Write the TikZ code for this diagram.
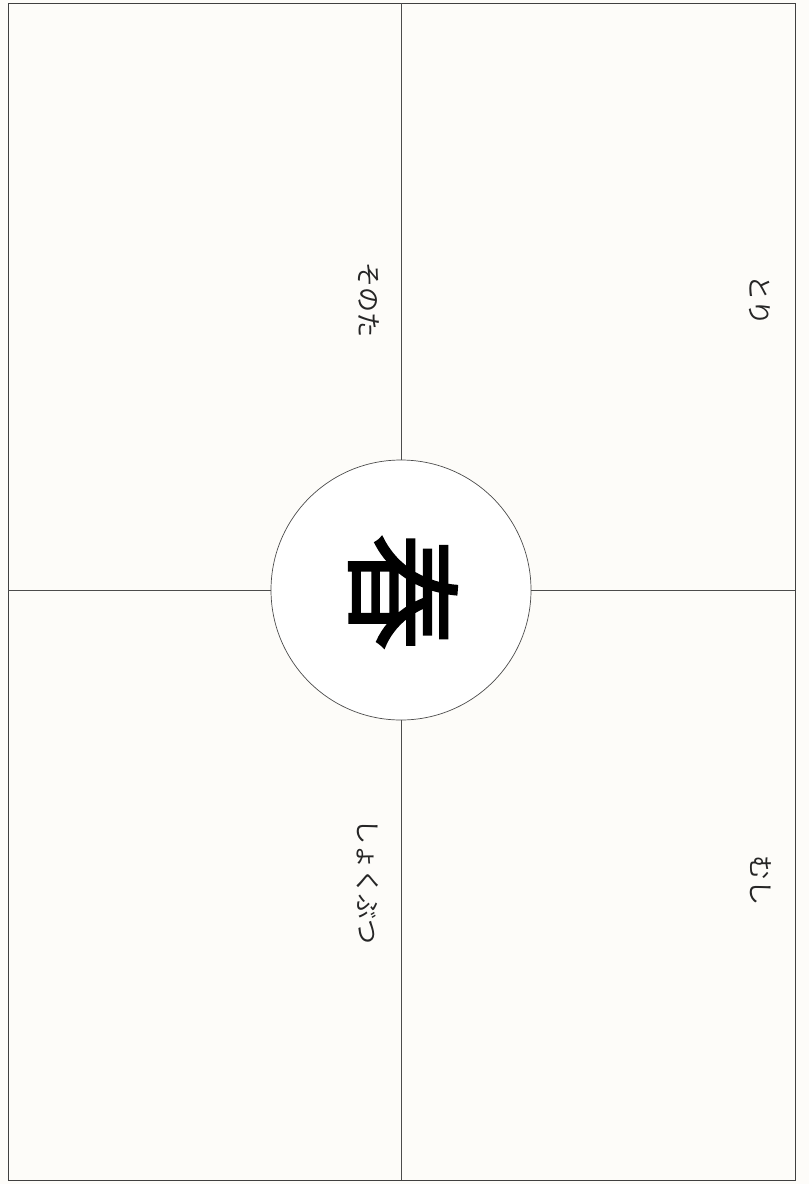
\documentclass[tikz,border=0pt]{standalone}
\usepackage{fontspec}
\newfontfamily\jp{Noto Sans CJK JP}
\newfontfamily\jpfuto[FakeBold=1.6]{Noto Sans CJK JP}
\definecolor{kami}{RGB}{253,252,249}

\begin{document}
\begin{tikzpicture}[x=1pt,y=-1pt,line width=0.8pt,
  waku/.style={draw=black!75,line width=1pt},
  sen/.style={draw=black!70,line width=0.7pt},
  moji/.style={rotate=-90,inner sep=1pt,text=black!85,font=\jp\fontsize{25}{25}\selectfont}]
  \useasboundingbox (0,0) rectangle (809,1184);
  % kami
  \fill[kami] (0,0) rectangle (809,1184);
  % waku
  \draw[waku] (8,3) rectangle (795,1180);
  \coordinate (ue) at (401,3);
  \coordinate (shita) at (401,1180);
  \coordinate (hidari) at (8,590);
  \coordinate (migi) at (795,590);
  % maru (haru)
  \node[circle,draw=black!70,line width=0.7pt,fill=white,minimum size=260pt,inner sep=0pt] (haru) at (401,590) {};
  \node[rotate=-90,inner sep=0pt,font=\jpfuto\fontsize{118}{118}\selectfont] (haruji) at (403,592) {春};
  % juji
  \draw[sen] (ue) -- (haru.north);
  \draw[sen] (haru.south) -- (shita);
  \draw[sen] (hidari) -- (haru.west);
  \draw[sen] (haru.east) -- (migi);
  % moji
  \node[moji] (sonota) at (369,300) {そのた};
  \node[moji] (tori) at (760,300) {とり};
  \node[moji] (shokubutsu) at (368,882) {しょくぶつ};
  \node[moji] (mushi) at (761,880) {むし};
\end{tikzpicture}
\end{document}
